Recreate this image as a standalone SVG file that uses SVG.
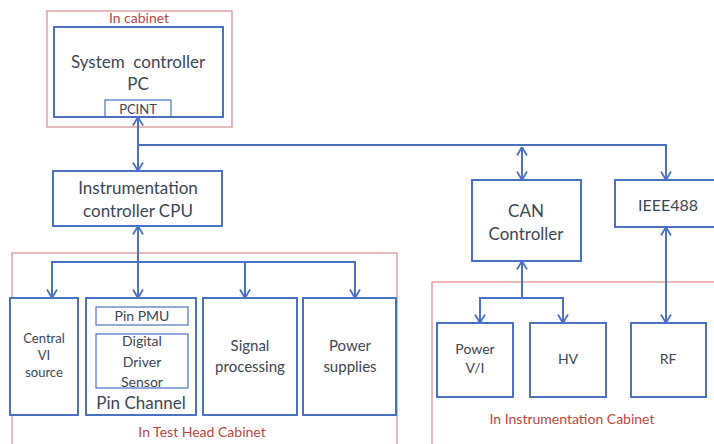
<svg xmlns="http://www.w3.org/2000/svg" width="714" height="444" viewBox="0 0 714 444">
<defs>
<marker id="ah" viewBox="0 0 10 12" refX="9.5" refY="6" markerWidth="10" markerHeight="12" markerUnits="userSpaceOnUse" orient="auto-start-reverse">
<path d="M1,1 L9.5,6 L1,11" fill="none" stroke="#4a72c0" stroke-width="1.8"/>
</marker>
<style>
.cab{fill:none;stroke:#d98a8c;stroke-width:1.2}
.box{fill:#fff;stroke:#4a72c0;stroke-width:2}
.ibox{fill:none;stroke:#4a72c0;stroke-width:1.2}
.ln{fill:none;stroke:#4a72c0;stroke-width:2}
.t{font-family:Lato,"Open Sans","Liberation Sans",sans-serif;fill:#3b4656;text-anchor:middle}
.r{font-family:Lato,"Open Sans","Liberation Sans",sans-serif;fill:#b8473f;text-anchor:middle;font-size:14px}
</style>
</defs>
<rect width="714" height="444" fill="#fff"/>
<g id="cabinet-top">
<rect class="cab" x="47" y="11" width="185" height="116"/>
<text class="r" x="139" y="23">In cabinet</text>
</g>
<g id="cabinet-testhead">
<rect class="cab" x="12" y="253" width="385" height="200"/>
<text class="r" x="202" y="437">In Test Head Cabinet</text>
</g>
<g id="cabinet-instr">
<rect class="cab" x="432" y="282" width="300" height="200"/>
<text class="r" x="572" y="424">In Instrumentation Cabinet</text>
</g>
<g id="syspc">
<rect class="box" x="54" y="27" width="169" height="90"/>
<text class="t" x="138" y="68" font-size="17" xml:space="preserve">System  controller</text>
<text class="t" x="138" y="90" font-size="17">PC</text>
<rect class="ibox" x="105" y="100" width="66" height="17"/>
<text class="t" x="138" y="114" font-size="13">PCINT</text>
</g>
<g id="instcpu">
<rect class="box" x="53" y="171" width="169" height="55"/>
<text class="t" x="138" y="194" font-size="17">Instrumentation</text>
<text class="t" x="138" y="217" font-size="17">controller CPU</text>
</g>
<g id="can">
<rect class="box" x="472" y="180" width="109" height="81"/>
<text class="t" x="526" y="217" font-size="17">CAN</text>
<text class="t" x="526" y="240" font-size="17">Controller</text>
</g>
<g id="ieee">
<rect class="box" x="615" y="180" width="110" height="47"/>
<text class="t" x="668" y="211" font-size="16">IEEE488</text>
</g>
<g id="centralvi">
<rect class="box" x="10" y="298" width="68" height="117"/>
<text class="t" x="44" y="343" font-size="13">Central</text>
<text class="t" x="44" y="360" font-size="13">VI</text>
<text class="t" x="44" y="377" font-size="13">source</text>
</g>
<g id="pinchannel">
<rect class="box" x="86" y="298" width="110" height="117"/>
<rect class="ibox" x="96" y="307" width="92" height="18"/>
<text class="t" x="142" y="321" font-size="14">Pin PMU</text>
<rect class="ibox" x="96" y="334" width="92" height="54"/>
<text class="t" x="142" y="346" font-size="14">Digital</text>
<text class="t" x="142" y="367" font-size="14">Driver</text>
<text class="t" x="142" y="387" font-size="14">Sensor</text>
<text class="t" x="141" y="409" font-size="17">Pin Channel</text>
</g>
<g id="signal">
<rect class="box" x="203" y="298" width="94" height="117"/>
<text class="t" x="250" y="351" font-size="15">Signal</text>
<text class="t" x="250" y="372" font-size="15">processing</text>
</g>
<g id="power">
<rect class="box" x="303" y="298" width="93" height="117"/>
<text class="t" x="350" y="351" font-size="15">Power</text>
<text class="t" x="350" y="372" font-size="15">supplies</text>
</g>
<g id="powervi">
<rect class="box" x="437" y="323" width="76" height="74"/>
<text class="t" x="475" y="354" font-size="14">Power</text>
<text class="t" x="475" y="373" font-size="14">V/I</text>
</g>
<g id="hv">
<rect class="box" x="530" y="323" width="76" height="74"/>
<text class="t" x="568" y="364" font-size="14">HV</text>
</g>
<g id="rf">
<rect class="box" x="631" y="323" width="75" height="74"/>
<text class="t" x="668" y="364" font-size="14">RF</text>
</g>
<g id="connectors">
<path class="ln" d="M138,117 V171" marker-start="url(#ah)" marker-end="url(#ah)"/>
<path class="ln" d="M138,145 H666 V180" marker-end="url(#ah)"/>
<path class="ln" d="M522,147 V180" marker-start="url(#ah)" marker-end="url(#ah)"/>
<path class="ln" d="M138,226 V298" marker-start="url(#ah)" marker-end="url(#ah)"/>
<path class="ln" d="M52,298 V262 H355 V298" marker-start="url(#ah)" marker-end="url(#ah)"/>
<path class="ln" d="M245,262 V298" marker-end="url(#ah)"/>
<path class="ln" d="M522,298 V261" marker-end="url(#ah)"/>
<path class="ln" d="M480,323 V298 H563 V323" marker-start="url(#ah)" marker-end="url(#ah)"/>
<path class="ln" d="M666,227 V323" marker-start="url(#ah)" marker-end="url(#ah)"/>
</g>
</svg>
